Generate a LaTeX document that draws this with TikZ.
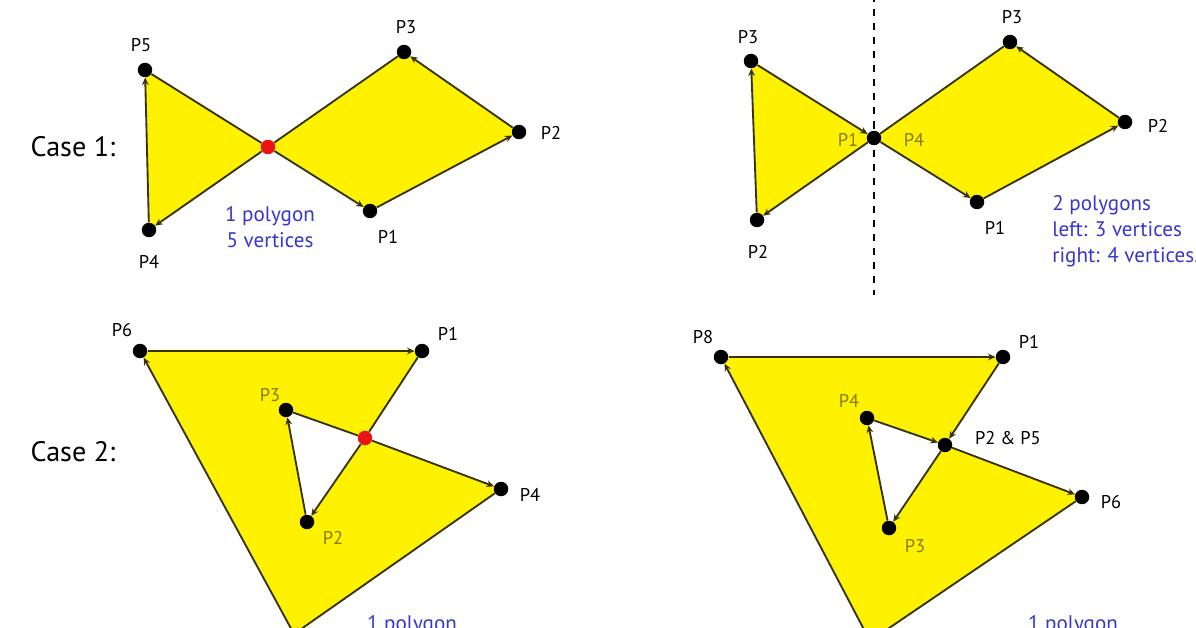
\documentclass[tikz,border=0pt]{standalone}
\usepackage{fontspec}
\setmainfont{PT Sans}
\usetikzlibrary{arrows.meta,backgrounds}
\definecolor{polyyellow}{RGB}{255,242,0}
\definecolor{edgeolive}{RGB}{55,50,0}
\definecolor{noteblue}{RGB}{55,55,205}
\definecolor{lblolive}{RGB}{135,120,0}
\definecolor{crossred}{RGB}{235,20,20}
\tikzset{
  dot/.style={circle,fill=black,inner sep=0pt,minimum size=0.29cm},
  crossdot/.style={dot,fill=crossred},
  edge/.style={draw=edgeolive,line width=1.05pt,-{Stealth[length=4.2pt,width=3.8pt]}},
  plain/.style={draw=edgeolive,line width=1.05pt},
  polyfill/.style={fill=polyyellow,even odd rule},
  lbl/.style={inner sep=1pt,font=\fontsize{10.5}{12}\selectfont},
  inlbl/.style={lbl,text=lblolive},
  note/.style={text=noteblue,inner sep=0pt,font=\fontsize{12}{14.8}\selectfont},
  casetxt/.style={inner sep=0pt,font=\fontsize{16}{19}\selectfont},
  divider/.style={line width=1.1pt,dash pattern=on 4pt off 4pt},
}
\begin{document}
\begin{tikzpicture}[x=0.02cm,y=-0.02cm]
  \useasboundingbox (0,0) rectangle (1196,628);
  \clip (0,0) rectangle (1196,628);

  % case 1, one polygon
  \node[casetxt] (case1) at (73,147) {Case 1:};
  \node[dot] (a1) at (370,211) {};
  \node[dot] (a2) at (519,132) {};
  \node[dot] (a3) at (404,52) {};
  \node[dot] (a4) at (149,230) {};
  \node[dot] (a5) at (145,70) {};
  \node[crossdot] (ax) at (268,147) {};
  \node[lbl] (a1t) at (388,237) {P1};
  \node[lbl] (a2t) at (551,133) {P2};
  \node[lbl] (a3t) at (406,27) {P3};
  \node[lbl] (a4t) at (149,262) {P4};
  \node[lbl] (a5t) at (141,45) {P5};
  \node[note,align=center] (a0n) at (270,227) {1 polygon\\5 vertices};
  \draw[edge] (a1) -- (a2);
  \draw[edge] (a2) -- (a3);
  \draw[plain] (a3) -- (ax);
  \draw[edge] (ax) -- (a4);
  \draw[edge] (a4) -- (a5);
  \draw[plain] (a5) -- (ax);
  \draw[edge] (ax) -- (a1);

  % case 1, split in two
  \coordinate (cuttop) at (874,-5);
  \coordinate (cutbot) at (874,295);
  \draw[divider] (cuttop) -- (cutbot);
  \node[dot] (b1) at (874,138) {};
  \node[dot] (b2) at (757,220) {};
  \node[dot] (b3) at (751,61) {};
  \node[dot] (b5) at (977,202) {};
  \node[dot] (b6) at (1125,122) {};
  \node[dot] (b7) at (1010,42) {};
  \node[inlbl] (b1t) at (848,140) {P1};
  \node[inlbl] (b4t) at (914,140) {P4};
  \node[lbl] (b2t) at (758,252) {P2};
  \node[lbl] (b3t) at (748,37) {P3};
  \node[lbl] (b5t) at (995,228) {P1};
  \node[lbl] (b6t) at (1158,126) {P2};
  \node[lbl] (b7t) at (1012,17) {P3};
  \node[note,align=left,anchor=west] (b0n) at (1052,231) {2 polygons\\left: 3 vertices\\right: 4 vertices.};
  \draw[edge] (b1) -- (b2);
  \draw[edge] (b2) -- (b3);
  \draw[edge] (b3) -- (b1);
  \draw[edge] (b1) -- (b5);
  \draw[edge] (b5) -- (b6);
  \draw[edge] (b6) -- (b7);
  \draw[plain] (b7) -- (b1);

  % case 2, one polygon with a hole
  \node[casetxt] (case2) at (73,452) {Case 2:};
  \node[dot] (c1) at (422,351) {};
  \node[crossdot] (cx) at (365,438) {};
  \node[dot] (c2) at (307,522) {};
  \node[dot] (c3) at (286,410) {};
  \node[dot] (c4) at (501,489) {};
  \coordinate (c5) at (294,634);
  \node[dot] (c6) at (140,351) {};
  \node[lbl] (c1t) at (448,334) {P1};
  \node[inlbl] (c2t) at (333,538) {P2};
  \node[inlbl] (c3t) at (270,395) {P3};
  \node[lbl] (c4t) at (530,495) {P4};
  \node[lbl] (c6t) at (122,330) {P6};
  \node[note,anchor=base] (c0n) at (412,630) {1 polygon};
  \draw[edge] (c6) -- (c1);
  \draw[plain] (c1) -- (cx);
  \draw[edge] (cx) -- (c2);
  \draw[edge] (c2) -- (c3);
  \draw[plain] (c3) -- (cx);
  \draw[edge] (cx) -- (c4);
  \draw[edge] (c4) -- (c5);
  \draw[edge] (c5) -- (c6);

  % case 2, shared vertex
  \node[dot] (d1) at (1003,357) {};
  \node[dot] (dx) at (945,445) {};
  \node[dot] (d3) at (889,528) {};
  \node[dot] (d4) at (867,418) {};
  \node[dot] (d6) at (1082,497) {};
  \coordinate (d7) at (870,641);
  \node[dot] (d8) at (721,357) {};
  \node[lbl] (d1t) at (1029,342) {P1};
  \node[lbl,anchor=west] (dxt) at (973,438) {P2 \& P5};
  \node[inlbl] (d3t) at (915,546) {P3};
  \node[inlbl] (d4t) at (849,401) {P4};
  \node[lbl] (d6t) at (1111,502) {P6};
  \node[lbl] (d8t) at (703,337) {P8};
  \node[note,anchor=base] (d0n) at (1073,630) {1 polygon};
  \draw[edge] (d8) -- (d1);
  \draw[edge] (d1) -- (dx);
  \draw[edge] (dx) -- (d3);
  \draw[edge] (d3) -- (d4);
  \draw[edge] (d4) -- (dx);
  \draw[edge] (dx) -- (d6);
  \draw[edge] (d6) -- (d7);
  \draw[edge] (d7) -- (d8);

  \begin{scope}[on background layer]
    \fill[white] (0,0) rectangle (1196,628);
    \fill[polyfill] (a1.center) -- (a2.center) -- (a3.center) -- (ax.center)
      -- (a4.center) -- (a5.center) -- (ax.center) -- cycle;
    \fill[polyfill] (b1.center) -- (b2.center) -- (b3.center) -- cycle;
    \fill[polyfill] (b1.center) -- (b5.center) -- (b6.center) -- (b7.center) -- cycle;
    \fill[polyfill] (c1.center) -- (cx.center) -- (c2.center) -- (c3.center) -- (cx.center)
      -- (c4.center) -- (c5) -- (c6.center) -- cycle;
    \fill[polyfill] (d1.center) -- (dx.center) -- (d3.center) -- (d4.center) -- (dx.center)
      -- (d6.center) -- (d7) -- (d8.center) -- cycle;
  \end{scope}
\end{tikzpicture}
\end{document}
